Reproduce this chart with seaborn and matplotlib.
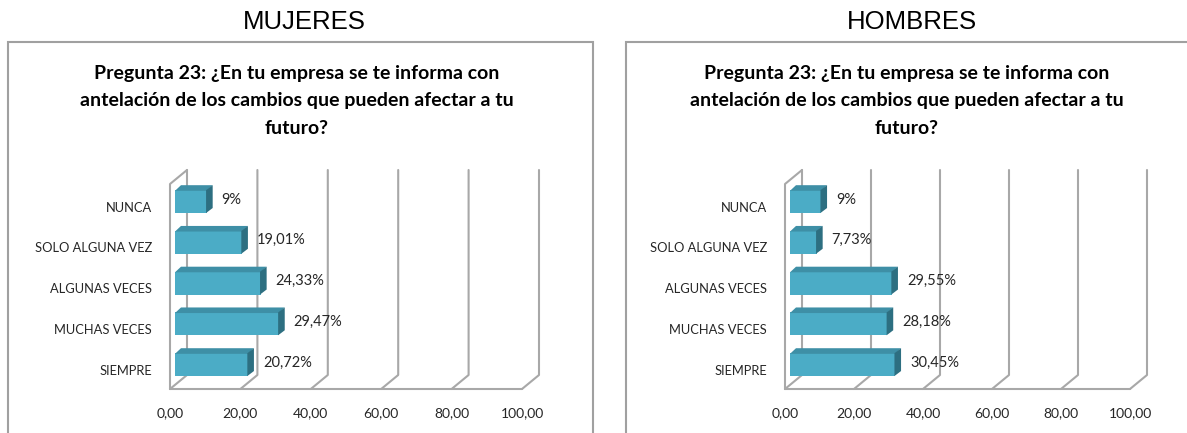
import numpy as np
import pandas as pd
import matplotlib
matplotlib.use('Agg')
import matplotlib.pyplot as plt
import seaborn as sns
from matplotlib.patches import Polygon, Rectangle
from matplotlib.lines import Line2D
from matplotlib.transforms import IdentityTransform

# datos
categorias = ['NUNCA', 'SOLO ALGUNA VEZ', 'ALGUNAS VECES', 'MUCHAS VECES', 'SIEMPRE']
mujeres = [9.0, 19.01, 24.33, 29.47, 20.72]
hombres = [9.0, 7.73, 29.55, 28.18, 30.45]
ticks_x = [0, 20, 40, 60, 80, 100]
titulo = ('Pregunta 23: ¿En tu empresa se te informa con\n'
          'antelación de los cambios que pueden afectar a tu\n'
          'futuro?')

FRONT = '#4BACC6'
TOP = '#3E8FA6'
SIDE = '#2D6F81'
GRID = '#A8A8A8'
TXT = '#262626'

sns.set_style('white')
plt.rcParams['font.family'] = ['Lato', 'DejaVu Sans']

W, H = 1187, 433
fig = plt.figure(figsize=(W / 100, H / 100), dpi=100)


def rect_px(x0, y0, w, h):
    # rectángulo en px de imagen -> fracción de figura
    return [x0 / W, 1 - (y0 + h) / H, w / W, h / H]


FO = np.array([-5, -4])   # plano frontal del suelo (px)
BO = np.array([12, 10])   # pared del fondo (px)
DEP = np.array([6, 5])    # profundidad de la barra (px)
YTOP, YBOT = -0.53, 4.5

panels = [
    dict(name='MUJERES', vals=mujeres, box=(8, 42, 585), ax=(175, 180, 352, 205), cx=304, tx=297),
    dict(name='HOMBRES', vals=hombres, box=(626, 42, 600), ax=(790, 180, 345, 205), cx=912, tx=907),
]

for p in panels:
    bx, by, bw = p['box']
    fig.add_artist(Rectangle((bx / W, -0.2), bw / W, 1 - by / H + 0.2,
                             transform=fig.transFigure, fill=False,
                             edgecolor='#A0A0A0', linewidth=1.5))
    fig.text(p['cx'] / W, 1 - 22 / H, p['name'], ha='center', va='center',
             fontsize=18.5, family=['Liberation Sans', 'DejaVu Sans'], color='black')
    fig.text(p['tx'] / W, 1 - 101 / H, titulo, ha='center', va='center',
             fontsize=14, fontweight='bold', linespacing=1.72, color='black')

    ax = fig.add_axes(rect_px(*p['ax']))
    df = pd.DataFrame({'cat': categorias, 'val': p['vals']})
    sns.barplot(data=df, x='val', y='cat', orient='h', color=FRONT,
                saturation=1, width=0.56, linewidth=0, edgecolor=FRONT,
                ax=ax, zorder=2)
    ax.set_xlim(0, 100)
    ax.set_ylim(YBOT, YTOP)
    ax.set_axis_off()

    def d(x, y):
        return ax.transData.transform((x, y))

    ident = IdentityTransform()

    def seg(pts):
        pts = np.array(pts)
        ax.add_line(Line2D(pts[:, 0], pts[:, 1], transform=ident, color=GRID,
                           linewidth=1.5, clip_on=False, zorder=0.5))

    # paredes y rejilla
    for xv in ticks_x:
        base = d(xv, YBOT)
        seg([base + FO, base + BO, d(xv, YTOP) + BO])
        ax.annotate(f'{xv:.2f}'.replace('.', ','), xy=(xv, YBOT),
                    xytext=tuple(FO + np.array([0, -24])), textcoords='offset pixels',
                    ha='center', va='center', fontsize=10, color=TXT)
    seg([d(0, YBOT) + FO, d(100, YBOT) + FO])
    seg([d(0, YBOT) + FO, d(0, YTOP) + FO, d(0, YTOP) + BO])

    # caras 3D de las barras
    for patch, val, cat in zip(ax.patches, p['vals'], categorias):
        x0, w = patch.get_x(), patch.get_width()
        y0, h = patch.get_y(), patch.get_height()
        yc = y0 + h / 2
        (xl, ya), (xr, yb) = d(x0, y0), d(x0 + w, y0 + h)
        yt, ybm = max(ya, yb), min(ya, yb)
        top = [(xl, yt - 0.6), (xr, yt - 0.6), (xr + DEP[0], yt + DEP[1]), (xl + DEP[0], yt + DEP[1])]
        side = [(xr - 0.6, ybm), (xr - 0.6, yt), (xr + DEP[0], yt + DEP[1]), (xr + DEP[0], ybm + DEP[1])]
        ax.add_patch(Polygon(top, closed=True, transform=ident, facecolor=TOP,
                             edgecolor='none', clip_on=False, zorder=2))
        ax.add_patch(Polygon(side, closed=True, transform=ident, facecolor=SIDE,
                             edgecolor='none', clip_on=False, zorder=2.1))
        lab = f'{val:.0f}%' if float(val).is_integer() else f'{val:.2f}%'.replace('.', ',')
        ax.annotate(lab, xy=(x0 + w, yc), xytext=(15, 2), textcoords='offset pixels',
                    ha='left', va='center', fontsize=10.5, color=TXT)
        ax.annotate(cat, xy=(0, yc), xytext=(-23, -6), textcoords='offset pixels',
                    ha='right', va='center', fontsize=9.3, color=TXT)

fig.savefig('out.png', dpi=100)
